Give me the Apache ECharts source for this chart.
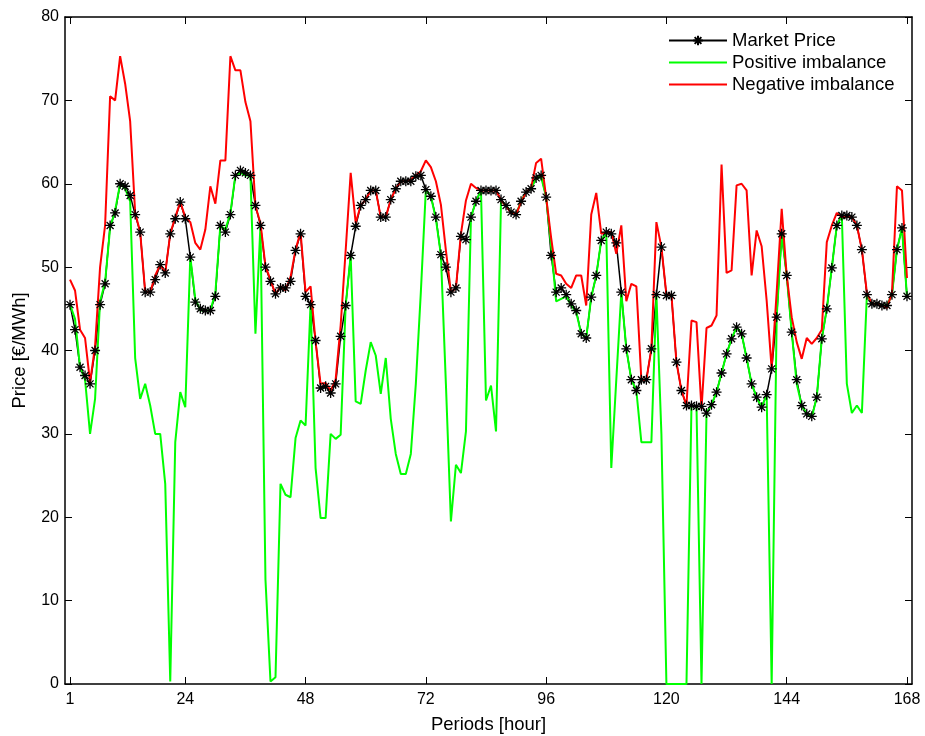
<!DOCTYPE html>
<html>
<head>
<meta charset="utf-8">
<script src="https://cdn.jsdelivr.net/npm/echarts@6/dist/echarts.min.js"></script>
<style>
  html, body { margin: 0; padding: 0; background: #fff; }
  #chart { width: 925px; height: 736px; }
</style>
</head>
<body>
<div id="chart"></div>
<script type="text/javascript">
	// hourly values, hour 1 .. 168
	var marketPrice = [
		45.5, 42.5, 38, 37, 36, 40, 45.5, 48, 55, 56.5, 60, 59.7, 58.6, 56.3, 54.2, 47, 47, 48.5, 50.3, 49.3, 54, 55.8, 57.8, 55.8,
		51.2, 45.8, 45, 44.8, 44.8, 46.5, 55, 54.2, 56.3, 61, 61.6, 61.3, 61, 57.4, 55, 50, 48.3, 46.8, 47.5, 47.5, 48.3, 52, 54, 46.5,
		45.5, 41.2, 35.5, 35.7, 34.9, 36, 41.7, 45.4, 51.4, 54.9, 57.4, 58.1, 59.2, 59.2, 56, 56, 58.1, 59.4, 60.3, 60.3, 60.3, 60.9, 61, 59.3,
		58.5, 56, 51.5, 50, 47, 47.5, 53.7, 53.3, 56, 57.9, 59.2, 59.2, 59.2, 59.2, 58.1, 57.4, 56.6, 56.3, 57.9, 59, 59.4, 60.7, 61, 58.4,
		51.4, 47, 47.5, 46.7, 45.6, 44.8, 42, 41.5, 46.4, 49, 53.2, 54.2, 54, 52.9, 47, 40.2, 36.5, 35.2, 36.5, 36.5, 40.2, 46.7, 52.4, 46.6,
		46.6, 38.6, 35.2, 33.4, 33.4, 33.3, 33.3, 32.5, 33.5, 35, 37.3, 39.6, 41.4, 42.8, 42, 39.1, 36, 34.4, 33.2, 34.7, 37.8, 44, 54, 49,
		42.2, 36.5, 33.4, 32.4, 32.1, 34.4, 41.4, 45, 49.9, 55, 56.2, 56.2, 56, 55, 52.1, 46.7, 45.6, 45.6, 45.4, 45.4, 46.7, 52.1, 54.7, 46.5
	];
	var positiveImbalance = [
		45.5, 43.8, 38, 36.5, 30, 34.2, 45.9, 48.2, 54.7, 56.8, 60, 59.4, 57.9, 39.1, 34.2, 36, 33.4, 30, 30, 24, 0.3, 29, 35, 33.2,
		51.2, 46.2, 44.8, 44.8, 44.8, 46.9, 55, 54.5, 56.5, 61, 61.3, 61, 61, 42, 55, 12.5, 0.3, 0.8, 24, 22.7, 22.4, 29.5, 31.6, 31,
		45.6, 25.9, 19.9, 19.9, 30, 29.4, 29.9, 45.4, 51.4, 33.9, 33.6, 37.6, 41, 39.4, 34.8, 39.1, 31.8, 27.6, 25.2, 25.2, 27.6, 36, 47, 59.3,
		58.5, 55.8, 51.5, 36, 19.5, 26.3, 25.3, 30.3, 56, 57.9, 59.2, 34, 35.8, 30.3, 58, 57.4, 56.6, 56.3, 57.9, 59, 59.4, 60.7, 60.8, 58.4,
		52.5, 45.9, 46.2, 46.5, 45.4, 44.6, 42, 41.5, 46.4, 49, 53.2, 54.2, 25.9, 36.5, 47, 40.2, 36.5, 35.2, 29, 29, 29, 46.7, 30, 0,
		0, 0, 0, 0, 33.4, 33.3, 0, 32.5, 33.5, 35, 37.3, 39.6, 41.4, 42.8, 42, 39.1, 36, 34.4, 33.2, 34.7, 0, 44, 54, 49,
		42.2, 36, 33.4, 32.4, 32, 34.4, 41.4, 45, 49.9, 55, 56.2, 36, 32.5, 33.4, 32.5, 46.7, 45.6, 45.6, 45.4, 45.4, 46.7, 52.1, 54.7, 46.5
	];
	var negativeImbalance = [
		48.5, 47.2, 42.5, 41.5, 36.2, 40.5, 50, 55, 70.5, 70, 75.3, 72, 67.5, 56.5, 54.2, 47, 47, 49, 50.3, 49.3, 54, 56, 57.8, 56,
		55.4, 52.9, 52.1, 54.5, 59.7, 57.6, 62.8, 62.8, 75.3, 73.6, 73.6, 69.8, 67.5, 57.3, 55.3, 50.1, 48.5, 46.7, 47.7, 47.2, 48.8, 52.1, 54.2, 47,
		47.7, 41, 36, 36.1, 35.2, 36.5, 43, 52, 61.3, 55.3, 57.4, 58.1, 59.2, 59.2, 56, 56, 58.1, 59.4, 60.3, 60.3, 60.5, 61, 61.5, 62.8,
		62, 60.3, 57.5, 52, 47, 47.5, 54, 58, 60, 59.5, 59.2, 59.2, 59.2, 59.2, 58, 57.3, 56.5, 56.3, 57.8, 59, 59.5, 62.5, 63, 58.4,
		53.5, 49.2, 49, 48, 47.5, 49, 49, 45.4, 56.3, 58.9, 54, 54.2, 54.2, 51.6, 55, 45.9, 48, 47.7, 36.5, 36.5, 40.2, 55.4, 52.4, 46.7,
		46.7, 38.6, 35.2, 33.4, 43.6, 43.4, 33, 42.7, 43, 44.2, 62.3, 49.3, 49.6, 59.8, 60, 59.2, 49, 54.4, 52.5, 46, 37.8, 47, 57, 49,
		44, 41, 39, 41.5, 40.8, 41.5, 42.5, 53, 55, 56.5, 56, 56, 56, 55, 52.1, 46.9, 45.6, 45.6, 45.4, 45.1, 46.9, 59.7, 59.2, 48.7
	];
	var xTicks = [1, 24, 48, 72, 96, 120, 144, 168];

	function toPoints(arr) {
		return arr.map(function (v, i) { return [i + 1, v]; });
	}

	var font = 'Liberation Sans, Arial, Helvetica, sans-serif';
	var asterisk = 'path://M5,0L5,10M0,5L10,5M1.5,1.5L8.5,8.5M8.5,1.5L1.5,8.5';
	var frame = { show : true, onZero : false, lineStyle : { color : '#000', width : 1.5 } };
	var tick = { show : true, inside : true, length : 7, lineStyle : { color : '#000' } };

	var option = {
		animation : false,
		backgroundColor : '#fff',
		grid : {
			left : 65,
			right : 13,
			top : 17,
			bottom : 52,
			containLabel : false,
			outerBoundsMode : 'none'
		},
		legend : {
			orient : 'vertical',
			left : 668,
			top : 31,
			padding : 0,
			itemWidth : 58,
			itemHeight : 12,
			itemGap : 3,
			data : [
				{ name : 'Market Price' },
				{ name : 'Positive imbalance', itemStyle : { opacity : 0 } },
				{ name : 'Negative imbalance', itemStyle : { opacity : 0 } }
			],
			textStyle : {
				color : '#000',
				fontFamily : font,
				fontSize : 18.5,
				lineHeight : 19
			}
		},
		xAxis : [ {
			type : 'value',
			min : 0,
			max : 169,
			name : 'Periods [hour]',
			nameLocation : 'middle',
			nameGap : 31,
			nameTextStyle : { color : '#000', fontFamily : font, fontSize : 18.5 },
			axisLine : frame,
			axisTick : Object.assign({ customValues : xTicks }, tick),
			axisLabel : { customValues : xTicks, color : '#000', fontFamily : font, fontSize : 16, margin : 8 },
			splitLine : { show : false }
		}, {
			type : 'value',
			position : 'top',
			min : 0,
			max : 169,
			axisLine : frame,
			axisTick : Object.assign({ customValues : xTicks }, tick),
			axisLabel : { show : false },
			splitLine : { show : false }
		} ],
		yAxis : [ {
			type : 'value',
			min : 0,
			max : 80,
			interval : 10,
			name : 'Price [\u20ac/MWh]',
			nameLocation : 'middle',
			nameGap : 36,
			nameTextStyle : { color : '#000', fontFamily : font, fontSize : 18.5 },
			axisLine : frame,
			axisTick : tick,
			axisLabel : { color : '#000', fontFamily : font, fontSize : 16, margin : 6 },
			splitLine : { show : false }
		}, {
			type : 'value',
			position : 'right',
			min : 0,
			max : 80,
			interval : 10,
			axisLine : frame,
			axisTick : tick,
			axisLabel : { show : false },
			splitLine : { show : false }
		} ],
		series : [ {
			name : 'Market Price',
			type : 'line',
			xAxisIndex : 0,
			yAxisIndex : 0,
			data : toPoints(marketPrice),
			symbol : asterisk,
			symbolSize : 10,
			showAllSymbol : true,
			lineStyle : { color : '#000', width : 1.5 },
			itemStyle : { color : '#000', borderColor : '#000', borderWidth : 1.3 }
		}, {
			name : 'Positive imbalance',
			type : 'line',
			xAxisIndex : 0,
			yAxisIndex : 0,
			data : toPoints(positiveImbalance),
			symbol : 'none',
			lineStyle : { color : '#00ff00', width : 2 },
			itemStyle : { color : '#00ff00' }
		}, {
			name : 'Negative imbalance',
			type : 'line',
			xAxisIndex : 0,
			yAxisIndex : 0,
			data : toPoints(negativeImbalance),
			symbol : 'none',
			lineStyle : { color : '#ff0000', width : 2 },
			itemStyle : { color : '#ff0000' }
		} ]
	};

	var chart = echarts.init(document.getElementById('chart'));
	chart.setOption(option);
</script>
</body>
</html>
